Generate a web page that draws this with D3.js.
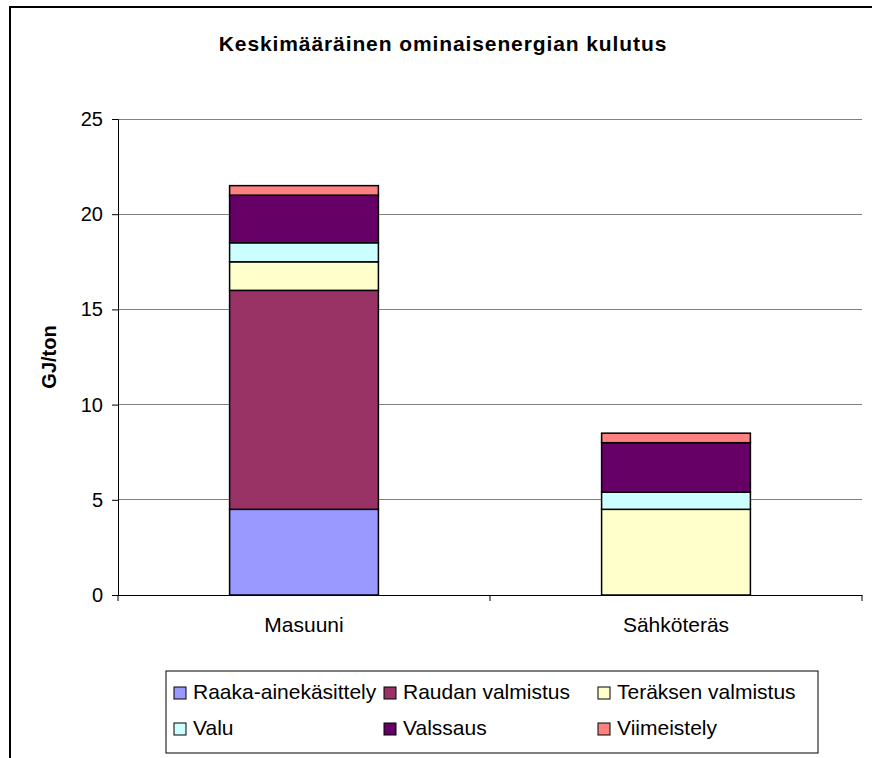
<!DOCTYPE html>
<html>
<head>
<meta charset="utf-8">
<script src="https://cdn.jsdelivr.net/npm/d3@7"></script>
<style>
  body { margin: 0; background: #fff; }
  text { font-family: "Liberation Sans", Arial, sans-serif; }
</style>
</head>
<body>
<script>
var width = 872;
var height = 758;

// data
var categories = ['Masuuni', 'Sähköteräs'];
var seriesNames = ['Raaka-ainekäsittely', 'Raudan valmistus', 'Teräksen valmistus', 'Valu', 'Valssaus', 'Viimeistely'];
var seriesColors = ['#9999ff', '#993366', '#ffffcc', '#ccffff', '#660066', '#ff8080'];
var masuuniValues = [4.5, 11.5, 1.5, 1.0, 2.5, 0.5];
var sahkoterasValues = [0, 0, 4.5, 0.9, 2.6, 0.5];
var yTicks = [0, 5, 10, 15, 20, 25];

// build rows for the stack
var rows = categories.map(function(c, i) {
  var vals = i === 0 ? masuuniValues : sahkoterasValues;
  var row = { category: c };
  seriesNames.forEach(function(s, j) { row[s] = vals[j]; });
  return row;
});
var stacked = d3.stack().keys(seriesNames)(rows);

var svg = d3.select('body')
  .append('svg')
  .attr('width', width)
  .attr('height', height);

// outer chart frame
svg.append('rect')
  .attr('x', 10)
  .attr('y', 7)
  .attr('width', 900)
  .attr('height', 800)
  .attr('fill', 'none')
  .attr('stroke', '#000')
  .attr('stroke-width', 2);

var plot = { left: 118, right: 862, top: 119, bottom: 595 };

var x = d3.scaleBand()
  .domain(categories)
  .range([plot.left, plot.right])
  .paddingInner(0.6)
  .paddingOuter(0.3);

var y = d3.scaleLinear()
  .domain([0, 25])
  .range([plot.bottom, plot.top]);

// gridlines
svg.append('g')
  .selectAll('line')
  .data(yTicks.slice(1))
  .enter().append('line')
  .attr('x1', plot.left)
  .attr('x2', plot.right)
  .attr('y1', function(d) { return y(d); })
  .attr('y2', function(d) { return y(d); })
  .attr('stroke', '#808080')
  .attr('stroke-width', 1)
  .attr('shape-rendering', 'crispEdges');

// y axis
var yAxis = svg.append('g')
  .attr('transform', 'translate(' + plot.left + ',0)')
  .call(d3.axisLeft(y).tickValues(yTicks).tickSize(6).tickPadding(9));
yAxis.select('.domain').attr('stroke', '#000');
yAxis.selectAll('text')
  .style('font-size', '20px')
  .attr('fill', '#000');

// bars
svg.append('g')
  .selectAll('g')
  .data(stacked)
  .enter().append('g')
  .attr('fill', function(d, i) { return seriesColors[i]; })
  .selectAll('rect')
  .data(function(d) { return d.filter(function(p) { return p[1] - p[0] > 0; }); })
  .enter().append('rect')
  .attr('x', function(d) { return x(d.data.category); })
  .attr('width', x.bandwidth())
  .attr('y', function(d) { return y(d[1]); })
  .attr('height', function(d) { return y(d[0]) - y(d[1]); })
  .attr('stroke', '#000')
  .attr('stroke-width', 1.5);

// x axis
var xAxis = svg.append('g')
  .attr('transform', 'translate(0,' + plot.bottom + ')')
  .call(d3.axisBottom(x).tickSize(0).tickPadding(22));
xAxis.select('.domain').attr('stroke', '#000');
xAxis.selectAll('text')
  .style('font-size', '21px')
  .attr('fill', '#000');
// category separator ticks
svg.append('g')
  .selectAll('line')
  .data([0, 1, 2])
  .enter().append('line')
  .attr('x1', function(d) { return plot.left + d * (plot.right - plot.left) / 2; })
  .attr('x2', function(d) { return plot.left + d * (plot.right - plot.left) / 2; })
  .attr('y1', plot.bottom)
  .attr('y2', plot.bottom + 6)
  .attr('stroke', '#000');

// title
svg.append('text')
  .attr('x', 443)
  .attr('y', 51)
  .attr('text-anchor', 'middle')
  .style('font-size', '21px')
  .style('font-weight', 'bold')
  .style('letter-spacing', '0.9px')
  .text('Keskimääräinen ominaisenergian kulutus');

// y axis title
svg.append('text')
  .attr('transform', 'translate(56,357) rotate(-90)')
  .attr('text-anchor', 'middle')
  .style('font-size', '20px')
  .style('font-weight', 'bold')
  .text('GJ/ton');

// legend
var legend = svg.append('g');
legend.append('rect')
  .attr('x', 166)
  .attr('y', 671)
  .attr('width', 652)
  .attr('height', 82)
  .attr('fill', '#fff')
  .attr('stroke', '#000')
  .attr('stroke-width', 1);

var colX = [174, 384, 598];
var rowY = [687, 723];
var items = legend.selectAll('g.item')
  .data(seriesNames)
  .enter().append('g')
  .attr('class', 'item')
  .attr('transform', function(d, i) {
    return 'translate(' + colX[i % 3] + ',' + rowY[Math.floor(i / 3)] + ')';
  });
items.append('rect')
  .attr('width', 12)
  .attr('height', 12)
  .attr('fill', function(d, i) { return seriesColors[i]; })
  .attr('stroke', '#000')
  .attr('stroke-width', 1);
items.append('text')
  .attr('x', 19)
  .attr('y', 12)
  .style('font-size', '21px')
  .text(function(d) { return d; });
</script>
</body>
</html>
